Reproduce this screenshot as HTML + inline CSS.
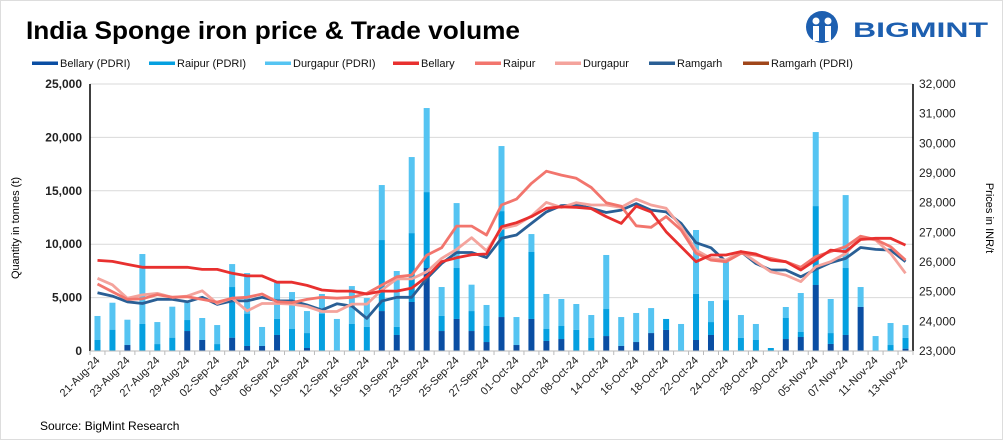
<!DOCTYPE html>
<html><head><meta charset="utf-8"><style>
html,body{margin:0;padding:0;background:#fff}
svg{display:block;font-family:"Liberation Sans",sans-serif}
</style></head><body>
<svg id="c" width="1003" height="440" viewBox="0 0 1003 440">
<rect x="0.5" y="0.5" width="1002" height="439" fill="#fff" stroke="#ddd"/>
<text x="26" y="39" font-size="25" font-weight="bold" textLength="494" lengthAdjust="spacingAndGlyphs" fill="#000">India Sponge iron price &amp; Trade volume</text>
<g>
<circle cx="822" cy="27" r="16" fill="#1d5fb0"/>
<circle cx="816" cy="21" r="3.5" fill="#fff"/><circle cx="828" cy="21" r="3.5" fill="#fff"/>
<rect x="813" y="26" width="6" height="15" fill="#fff"/><rect x="825" y="26" width="6" height="15" fill="#fff"/>
<text x="853" y="37" font-size="21" font-weight="bold" fill="#1d5fb0" textLength="135" lengthAdjust="spacingAndGlyphs">BIGMINT</text>
</g>
<g id="legend"></g>
<g id="grid"></g><g id="bars"></g><g id="lines"></g><g id="axes"></g>
<text x="19" y="228" font-size="11" transform="rotate(-90 19 228)" text-anchor="middle">Quantity in tonnes (t)</text>
<text x="986" y="218" font-size="11" transform="rotate(90 986 218)" text-anchor="middle">Prices in INR/t</text>
<text x="40" y="430" font-size="12">Source: BigMint Research</text>
</svg>
<script>
const categories=["21-Aug-24","22-Aug-24","23-Aug-24","26-Aug-24","27-Aug-24","28-Aug-24","29-Aug-24","30-Aug-24","02-Sep-24","03-Sep-24","04-Sep-24","05-Sep-24","06-Sep-24","09-Sep-24","10-Sep-24","11-Sep-24","12-Sep-24","13-Sep-24","16-Sep-24","17-Sep-24","19-Sep-24","20-Sep-24","23-Sep-24","24-Sep-24","25-Sep-24","26-Sep-24","27-Sep-24","30-Sep-24","01-Oct-24","03-Oct-24","04-Oct-24","07-Oct-24","08-Oct-24","11-Oct-24","14-Oct-24","15-Oct-24","16-Oct-24","17-Oct-24","18-Oct-24","21-Oct-24","22-Oct-24","23-Oct-24","24-Oct-24","25-Oct-24","28-Oct-24","29-Oct-24","30-Oct-24","04-Nov-24","05-Nov-24","06-Nov-24","07-Nov-24","08-Nov-24","11-Nov-24","12-Nov-24","13-Nov-24"];
const bellaryPdri=[0,0,560,0,0,0,1870,1030,0,1250,470,470,1500,0,280,0,0,0,0,3740,1500,4590,7770,1870,3000,1870,840,3180,560,3000,940,1120,0,0,1400,470,840,1680,1970,0,1030,1500,0,0,0,0,1120,1310,6180,660,1500,4120,0,0,220];
const raipurPdri=[1030,2000,0,2530,650,1250,1030,0,650,4740,3030,0,1500,2060,1400,3500,0,2530,2250,6650,750,6450,7110,1410,4770,1870,1500,9920,0,6270,1120,1220,1970,1220,2530,0,0,0,1030,0,4310,1210,4770,1220,1030,280,1970,470,7390,1020,6270,0,0,560,1000];
const durgapurPdri=[2250,2520,2370,6550,2060,2900,1620,2060,1780,2150,3800,1780,3400,3460,2060,1840,3000,3550,2710,5150,5240,7120,7870,2710,6080,2470,1970,6090,2620,1680,3280,2530,2430,2150,5060,2710,2720,2340,0,2530,5990,1970,3560,2150,1500,0,1030,3650,6930,3190,6830,1870,1400,2060,1210];
const bellary=[26055,26020,25920,25820,25820,25820,25820,25750,25750,25620,25530,25530,25320,25320,25210,25055,25020,25020,24920,25020,25020,25120,25500,26010,26140,26245,26270,27190,27325,27530,27810,27860,27840,27800,27530,27300,27880,27690,27020,26515,26010,26235,26235,26350,26270,26065,26010,25730,26065,26400,26350,26760,26800,26800,26570];
const raipur=[25260,25000,24740,24760,24900,24810,24830,24740,24650,24780,24810,24920,24660,24630,24740,24810,24780,24810,24940,25220,25500,25560,26230,26480,27210,27210,26910,27920,28120,28650,29060,28930,28820,28510,28000,27880,27220,27170,27530,27080,26300,26065,26010,26290,26230,26120,26010,25820,26180,26350,26515,26870,26760,26515,26065];
const durgapur=[25450,25230,24775,24890,24940,24810,24850,25030,24600,24780,24350,24600,24600,24580,24500,24330,24330,24580,24580,25055,25430,25430,25670,26120,26425,26820,26380,27130,27245,27550,28010,27840,28000,27920,27920,27840,28120,27920,27810,27190,26400,26120,26065,26350,26010,25670,25560,25340,25840,26010,26290,26820,26740,26290,25620];
const ramgarh=[24965,24850,24660,24600,24740,24740,24660,24810,24570,24690,24690,24810,24690,24690,24550,24380,24590,24515,24100,24685,24810,24810,25440,25950,26320,26320,26150,26800,26910,27300,27690,27900,27920,27810,27670,27750,27970,27750,27690,27300,26650,26480,26010,26350,25950,25730,25730,25500,25750,25980,26120,26490,26425,26400,26010];
const leftTicks=["0","5,000","10,000","15,000","20,000","25,000"];
const leftVals=[0,5000,10000,15000,20000,25000];
const rightTicks=["23,000","24,000","25,000","26,000","27,000","28,000","29,000","30,000","31,000","32,000"];
const rightVals=[23000,24000,25000,26000,27000,28000,29000,30000,31000,32000];

const NS="http://www.w3.org/2000/svg";
const X0=90,X1=913,Y0=351,Y1=84;
const n=categories.length,step=(X1-X0)/n;
const xc=i=>X0+step*(i+0.5);
const yL=v=>Y0-(v/25000)*(Y0-Y1);
const yR=v=>Y0-((v-23000)/9000)*(Y0-Y1);
function mk(tag,attrs,parent){const e=document.createElementNS(NS,tag);for(const k in attrs)e.setAttribute(k,attrs[k]);parent.appendChild(e);return e;}
const grid=document.getElementById('grid'),bars=document.getElementById('bars'),lines=document.getElementById('lines'),axes=document.getElementById('axes'),leg=document.getElementById('legend');

leftVals.forEach((v,i)=>{
  if(v>0){const g=mk('line',{x1:X0,x2:X1,y1:yL(v),y2:yL(v),stroke:'#d9d9d9','stroke-width':1},grid);
  
  }
  const t=mk('text',{x:X0-8,y:yL(v)+4,'font-size':12,'font-weight':'bold','text-anchor':'end',fill:'#222'},axes);t.textContent=leftTicks[i];
  
  
});
rightVals.forEach((v,i)=>{
  const t=mk('text',{x:X1+6,y:yR(v)+4,'font-size':12,'text-anchor':'start',fill:'#222'},axes);t.textContent=rightTicks[i];
  
  
});
const bw=6;
const series=[[bellaryPdri,'#0a4ea3','bar-bellary-pdri'],[raipurPdri,'#05a0e0','bar-raipur-pdri'],[durgapurPdri,'#55c4f2','bar-durgapur-pdri']];
for(let i=0;i<n;i++){let cum=0;series.forEach(s=>{const v=s[0][i];if(v>0){const r=mk('rect',{x:xc(i)-bw/2,y:yL(cum+v),width:bw,height:yL(cum)-yL(cum+v),fill:s[1]},bars);
  
  }cum+=v;});}
const ls=[[ramgarh,'#2a5f95','line-ramgarh'],[durgapur,'#f4a39c','line-durgapur'],[raipur,'#f2756d','line-raipur'],[bellary,'#e8302f','line-bellary']];
ls.forEach(s=>{const d=s[0].map((v,i)=>(i?'L':'M')+xc(i).toFixed(1)+' '+yR(v).toFixed(1)).join('');
  const p=mk('path',{d:d,fill:'none',stroke:s[1],'stroke-width':2.8,'stroke-linejoin':'round'},lines);
  
  });
const ax=mk('line',{x1:X0,x2:X0,y1:Y1,y2:Y0,stroke:'#000','stroke-width':1.5},axes);


const ax2=mk('line',{x1:X1,x2:X1,y1:Y1,y2:Y0,stroke:'#000','stroke-width':1.5},axes);


const ax3=mk('line',{x1:X0,x2:X1,y1:Y0,y2:Y0,stroke:'#bbb','stroke-width':1},axes);


for(let i=0;i<=n;i++){const tk=mk('line',{x1:X0+step*i,x2:X0+step*i,y1:Y0,y2:Y0+4,stroke:'#bbb'},axes);
  
  }
for(let i=0;i<n;i+=2){const x=xc(i)+3,y=Y0+10;const t=mk('text',{x:x,y:y,'font-size':11,'text-anchor':'end',transform:`rotate(-45 ${x} ${y})`,fill:'#222'},axes);t.textContent=categories[i];
  
  }
const legItems=[["Bellary (PDRI)",'#0a4ea3',32],["Raipur (PDRI)",'#05a0e0',149],["Durgapur (PDRI)",'#55c4f2',265],["Bellary",'#e8302f',393],["Raipur",'#f2756d',475],["Durgapur",'#f4a39c',555],["Ramgarh",'#2a5f95',649],["Ramgarh (PDRI)",'#a0461a',743]];
legItems.forEach(it=>{const r=mk('rect',{x:it[2],y:61.5,width:26,height:3.5,fill:it[1]},leg);
  
  
  const t=mk('text',{x:it[2]+28,y:67,'font-size':11,fill:'#111'},leg);t.textContent=it[0];
  
  });
</script>
</body></html>
